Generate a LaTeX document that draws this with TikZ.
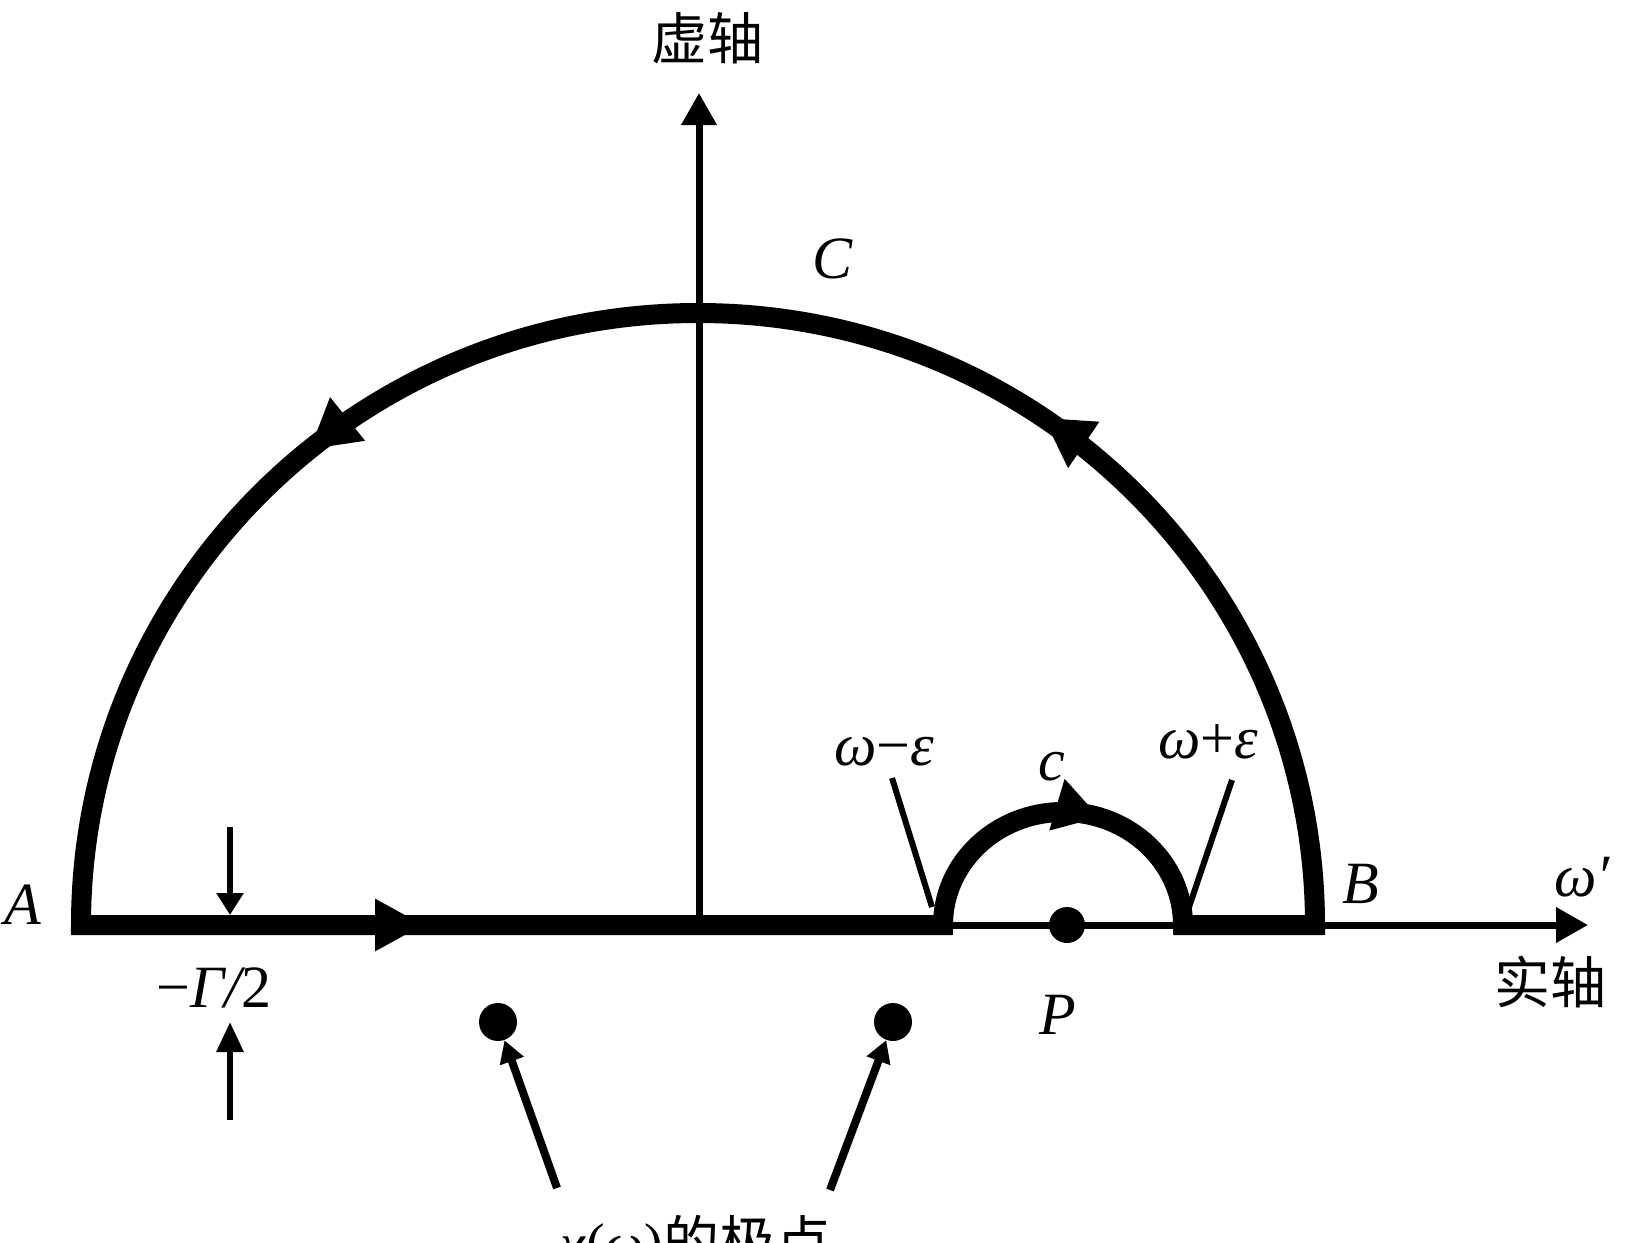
\documentclass[tikz,border=0pt]{standalone}
\usepackage{fontspec}
\setmainfont{Liberation Serif}
\newfontfamily\cjk{Noto Sans CJK SC}
\usetikzlibrary{arrows.meta,decorations.markings}
\begin{document}
\begin{tikzpicture}[x=0.5pt,y=-0.5pt,
  contour/.style={line width=10pt, line join=miter},
  axisline/.style={line width=3.5pt, -{Triangle[length=16pt,width=17pt]}},
  lbl/.style={inner sep=0pt, font=\fontsize{30}{36}\selectfont\itshape},
  cjklbl/.style={inner sep=0pt, font=\fontsize{28}{34}\selectfont\cjk},
  pole/.style={circle, fill, inner sep=0pt, minimum size=19pt},
  pointer/.style={line width=3pt},
  polearrow/.style={line width=4pt, -{Triangle[length=11pt,width=12pt]}},
  gamarrow/.style={line width=3pt, -{Triangle[length=#1,width=13pt]}},
]
\useasboundingbox (0,0) rectangle (1638,1242);
\fill[white] (0,0) rectangle (1638,1242);
\clip (0,0) rectangle (1638,1242);

% points
\coordinate (O) at (699,925);
\coordinate (A0) at (81,925);
\coordinate (B0) at (1315,925);
\coordinate (L1) at (943,925);
\coordinate (R1) at (1183,925);
\coordinate (Xend) at (1588,925);
\coordinate (Yend) at (699,93);

% axes
\draw[axisline] (A0) -- (Xend);
\draw[axisline] (O) -- (Yend);

% contour
\draw[contour] (A0) -- (L1)
  arc[start angle=180, end angle=360, x radius=120, y radius=113]
  -- (B0)
  arc[start angle=0, end angle=-180, x radius=617, y radius=612] -- cycle;

% direction arrows on contour
\path[decorate, decoration={markings,
  mark=at position 171pt with {\fill (0,0) -- (-24pt,13.2pt) -- (-24pt,-13.2pt) -- cycle;}}]
  (A0) -- (L1);
\path[decorate, decoration={markings,
  mark=at position 0.6 with {\fill (0,0) -- (-22pt,13.5pt) -- (-22pt,-13.5pt) -- cycle;}}]
  (L1) arc[start angle=180, end angle=360, x radius=120, y radius=113];
\path[decorate, decoration={markings,
  mark=at position 0.31 with {\fill (0,0) -- (-24pt,14pt) -- (-24pt,-14pt) -- cycle;},
  mark=at position 0.717 with {\fill (0,0) -- (-24pt,14pt) -- (-24pt,-14pt) -- cycle;}}]
  (B0) arc[start angle=0, end angle=-180, x radius=617, y radius=612];

% -Gamma/2 arrows
\coordinate (g1) at (230,827);
\coordinate (g2) at (230,915);
\coordinate (g3) at (230,1120);
\coordinate (g4) at (230,1022);
\draw[gamarrow=11pt] (g1) -- (g2);
\draw[gamarrow=15pt] (g3) -- (g4);

% pointer lines
\coordinate (wm1) at (892,778);
\coordinate (wm2) at (932,907);
\coordinate (wp1) at (1232,780);
\coordinate (wp2) at (1188,910);
\draw[pointer] (wm1) -- (wm2);
\draw[pointer] (wp1) -- (wp2);

% poles
\node[pole, minimum size=18pt] (Pdot) at (1067,925) {};
\node[pole] (p1) at (498,1022) {};
\node[pole] (p2) at (893,1022) {};
\coordinate (q1) at (557,1188);
\coordinate (q2) at (830,1190);
\draw[polearrow] (q1) -- (p1);
\draw[polearrow] (q2) -- (p2);

% labels
\node[cjklbl] (imag) at (707,38) {虚轴};
\node[lbl] (C) at (832,259) {C};
\node[lbl] (A) at (23,905) {A};
\node[lbl] (B) at (1361,884) {B};
\node[lbl] (w) at (1582,877) {ω′};
\node[cjklbl] (real) at (1550,982) {实轴};
\node[lbl] (gam) at (214,988) {{\upshape −}Γ/{\upshape 2}};
\node[lbl] (P) at (1058,1015) {P};
\node[lbl] (c) at (1052,767) {c};
\node[lbl] (wm) at (884,752) {ω{\upshape −}ε};
\node[lbl] (wp) at (1208,742) {ω{\upshape +}ε};
\node[inner sep=0pt, anchor=base west, font=\fontsize{28}{34}\selectfont] (poles) at (560,1262)
  {\textit{χ}(\textit{ω})\cjk 的极点};
\end{tikzpicture}
\end{document}
